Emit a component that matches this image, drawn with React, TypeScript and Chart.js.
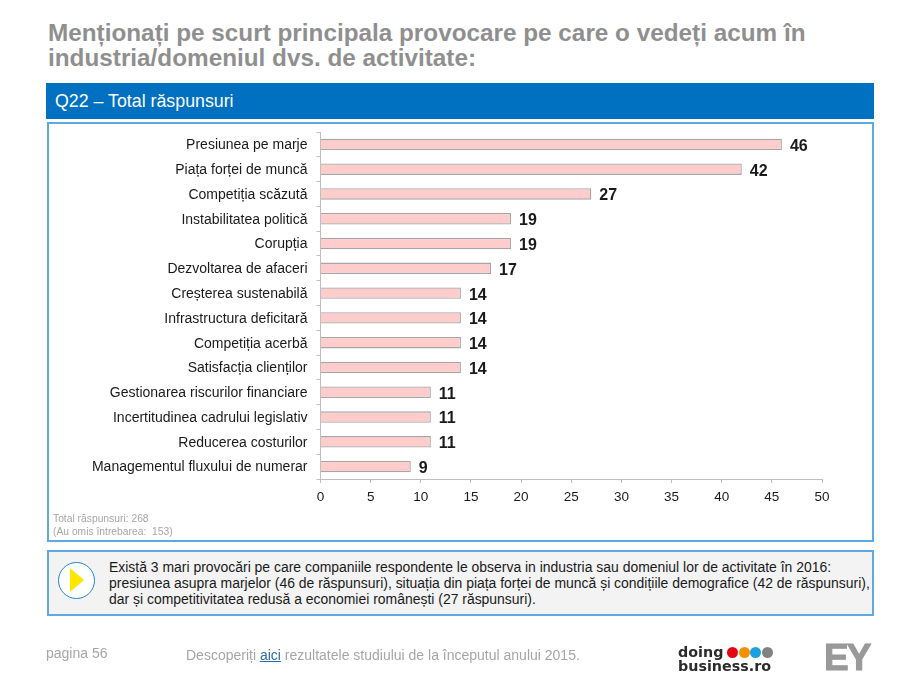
import React, { useEffect, useRef } from "react";
import { Chart, registerables } from "chart.js";

Chart.register(...registerables);

const categories = [
  "Presiunea pe marje",
  "Piața forței de muncă",
  "Competiția scăzută",
  "Instabilitatea politică",
  "Corupția",
  "Dezvoltarea de afaceri",
  "Creșterea sustenabilă",
  "Infrastructura deficitară",
  "Competiția acerbă",
  "Satisfacția clienților",
  "Gestionarea riscurilor financiare",
  "Incertitudinea cadrului legislativ",
  "Reducerea costurilor",
  "Managementul fluxului de numerar",
];
const responses = [46, 42, 27, 19, 19, 17, 14, 14, 14, 14, 11, 11, 11, 9];

const FONT = '"Liberation Sans", Arial, sans-serif';

const box = (l: number, t: number, w: number, h: number, extra: React.CSSProperties = {}): React.CSSProperties => ({
  position: "absolute", left: l, top: t, width: w, height: h, boxSizing: "border-box", ...extra,
});

const valueLabels = {
  id: "valueLabels",
  afterDatasetsDraw(chart: any) {
    const { ctx } = chart;
    const meta = chart.getDatasetMeta(0);
    ctx.save();
    ctx.font = `bold 16px ${FONT}`;
    ctx.fillStyle = "#1a1a1a";
    ctx.textBaseline = "middle";
    ctx.textAlign = "left";
    meta.data.forEach((el: any, i: number) => {
      ctx.fillText(String(responses[i]), el.x + 8, el.y + 2);
    });
    ctx.restore();
  },
};

export default function App() {
  const ref = useRef<HTMLCanvasElement>(null);
  useEffect(() => {
    const chart = new Chart(ref.current!, {
      type: "bar",
      data: {
        labels: categories,
        datasets: [{
          data: responses,
          backgroundColor: "#FFCCCC",
          borderColor: "#A6A6A6",
          borderWidth: 1.3,
          barPercentage: 0.46,
          categoryPercentage: 1,
        }],
      },
      options: {
        indexAxis: "y",
        animation: false,
        responsive: false,
        devicePixelRatio: 1,
        layout: { padding: { left: 0, top: 132, right: 98, bottom: 181 } },
        plugins: { legend: { display: false }, tooltip: { enabled: false } },
        scales: {
          x: {
            min: 0, max: 50,
            afterFit(s: any) { s.height = 30; },
            grid: { drawOnChartArea: false, color: "#BFBFBF", tickLength: 4 },
            border: { color: "#BFBFBF" },
            ticks: { stepSize: 5, color: "#1a1a1a", font: { family: FONT, size: 13.5 }, maxRotation: 0, padding: 6 },
          },
          y: {
            afterFit(s: any) { s.width = 320.5; },
            grid: { drawOnChartArea: false, color: "#BFBFBF", tickLength: 4 },
            border: { color: "#BFBFBF" },
            ticks: { color: "#1a1a1a", font: { family: FONT, size: 14 }, autoSkip: false, padding: 9, labelOffset: 1 },
          },
        },
      },
      plugins: [valueLabels],
    } as any);
    return () => chart.destroy();
  }, []);

  return (
    <div style={{ position: "absolute", left: 0, top: 0, width: 920, height: 690, background: "#fff", overflow: "hidden", fontFamily: FONT }}>
      <div style={box(48, 20, 830, 52, { color: "#8f8f8f", fontWeight: 700, fontSize: 24.3, lineHeight: "25px", whiteSpace: "nowrap" })}>
        Menționați pe scurt principala provocare pe care o vedeți acum în<br />industria/domeniul dvs. de activitate:
      </div>
      <div style={box(46, 83, 828, 36, { background: "#0070C0", color: "#fff", fontSize: 17.8, lineHeight: "36px", paddingLeft: 9 })}>
        Q22 – Total răspunsuri
      </div>
      <div style={box(47, 122, 827, 420, { border: "2px solid #5FA8E0" })} />
      <canvas ref={ref} width={920} height={690} style={{ position: "absolute", left: 0, top: 0 }} />
      <div style={box(53, 513, 300, 26, { color: "#a6a6a6", fontSize: 10.3, lineHeight: "12.5px", whiteSpace: "pre" })}>
        {"Total răspunsuri: 268\n(Au omis întrebarea:  153)"}
      </div>
      <div style={box(47, 550, 827, 66, { border: "2px solid #5FA8E0", background: "#F3F3F3" })} />
      <div style={box(58, 562, 37, 37, { border: "1.5px solid #1F87D6", borderRadius: "50%", background: "#fff" })} />
      <div style={{ position: "absolute", left: 70, top: 568, width: 0, height: 0, borderTop: "12.5px solid transparent", borderBottom: "12.5px solid transparent", borderLeft: "14px solid #FFE600" }} />
      <div style={box(109, 559, 765, 50, { color: "#1a1a1a", fontSize: 13.95, lineHeight: "16px", whiteSpace: "nowrap" })}>
        Există 3 mari provocări pe care companiile respondente le observa in industria sau domeniul lor de activitate în 2016:<br />
        presiunea asupra marjelor (46 de răspunsuri), situația din piața forței de muncă și condițiile demografice (42 de răspunsuri),<br />
        dar și competitivitatea redusă a economiei românești (27 răspunsuri).
      </div>
      <div style={box(46, 645, 100, 18, { color: "#a6a6a6", fontSize: 14, lineHeight: "16px" })}>pagina 56</div>
      <div style={box(186, 647, 440, 18, { color: "#a6a6a6", fontSize: 14, lineHeight: "16px", whiteSpace: "nowrap" })}>
        Descoperiți <span style={{ color: "#2A6DA8", textDecoration: "underline" }}>aici</span> rezultatele studiului de la începutul anului 2015.
      </div>
      <div style={box(678, 645, 120, 30, { color: "#2b2b2b", fontWeight: 700, fontSize: 14.3, lineHeight: "14px", fontFamily: '"DejaVu Sans", sans-serif', whiteSpace: "nowrap" })}>
        doing<br />business.ro
      </div>
      {["#E30613", "#F39200", "#1BA1E2", "#808285"].map((c, i) => (
        <div key={c} style={box(727 + i * 11.7, 647, 11, 11, { background: c, borderRadius: "50%" })} />
      ))}
      <div style={box(824, 640, 52, 36, { color: "#999", fontWeight: 700, fontSize: 37, lineHeight: "36px", letterSpacing: -2, whiteSpace: "nowrap", WebkitTextStroke: "1px #999" })}>EY</div>
    </div>
  );
}
